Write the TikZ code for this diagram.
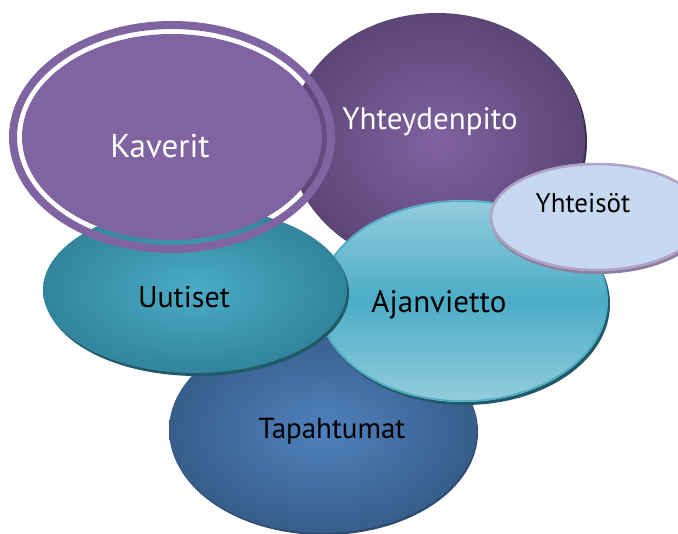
\documentclass[tikz,border=0pt]{standalone}
\usepackage{fontspec}
\setmainfont{PT Sans}
\definecolor{kav}{HTML}{8064A2}
\definecolor{yhin}{HTML}{7F62A0}
\definecolor{yhout}{HTML}{5C4676}
\definecolor{yhrim}{HTML}{3F3151}
\definecolor{ytfill}{HTML}{C6D9F1}
\definecolor{ytbord}{HTML}{B3A2C7}
\definecolor{ytrim}{HTML}{8C7FA0}
\definecolor{ajl}{HTML}{93CDDD}
\definecolor{ajm}{HTML}{4BACC6}
\definecolor{tealrim}{HTML}{215968}
\definecolor{uin}{HTML}{4BACC6}
\definecolor{uout}{HTML}{31849B}
\definecolor{tin}{HTML}{4F81BD}
\definecolor{tout}{HTML}{385D8A}
\definecolor{trim}{HTML}{2A4A70}
\tikzset{
  lbl/.style={anchor=base, inner sep=0pt, font=\fontsize{29}{34}\selectfont, text=black},
}
\begin{document}
\begin{tikzpicture}[x=1pt,y=-1pt]
\useasboundingbox (0,0) rectangle (678,534);
\clip (0,0) rectangle (678,534);
% Tapahtumat
\fill[trim] (324,432) ellipse [x radius=154pt, y radius=103pt];
\shade[inner color=tin, outer color=tout] (323,430) ellipse [x radius=154pt, y radius=103pt];
% Yhteydenpito
\fill[yhrim] (439,142) ellipse [x radius=148pt, y radius=127pt];
\shade[inner color=yhin, outer color=yhout] (437,140) ellipse [x radius=148pt, y radius=127pt];
% Ajanvietto
\fill[tealrim] (465,304) ellipse [x radius=145pt, y radius=101pt];
\shade[top color=ajl, bottom color=ajl, middle color=ajm] (463,301) ellipse [x radius=145pt, y radius=101pt];
\draw[ajm, line width=1.5pt] (463,301) ellipse [x radius=144pt, y radius=100pt];
% Yhteisoet
\fill[ytrim] (598,220) ellipse [x radius=107pt, y radius=54pt];
\fill[ytfill] (597,217) ellipse [x radius=107pt, y radius=54pt];
\draw[ytbord, line width=2.5pt] (597,217) ellipse [x radius=106pt, y radius=53pt];
% Uutiset
\fill[tealrim] (197,293) ellipse [x radius=152pt, y radius=83pt];
\shade[inner color=uin, outer color=uout] (195,290) ellipse [x radius=152pt, y radius=83pt];
% Kaverit
\fill[kav, even odd rule] (172,137) ellipse [x radius=163pt, y radius=116pt]
  (172,137) ellipse [x radius=155pt, y radius=108pt];
\fill[kav] (172,137) ellipse [x radius=150pt, y radius=103pt];
% labels
\node[lbl, text=white, font=\fontsize{33}{38}\selectfont] (kaverit) at (160,158) {Kaverit};
\node[lbl, text=white, font=\fontsize{31}{36}\selectfont] (yhteydenpito) at (430,130) {Yhteydenpito};
\node[lbl, font=\fontsize{27}{32}\selectfont] (yhteisot) at (583,213) {Yhteisöt};
\node[lbl, font=\fontsize{31}{36}\selectfont] (ajanvietto) at (439,313) {Ajanvietto};
\node[lbl, font=\fontsize{30}{35}\selectfont] (uutiset) at (184,308) {Uutiset};
\node[lbl] (tapahtumat) at (332,439) {Tapahtumat};
\end{tikzpicture}
\end{document}
